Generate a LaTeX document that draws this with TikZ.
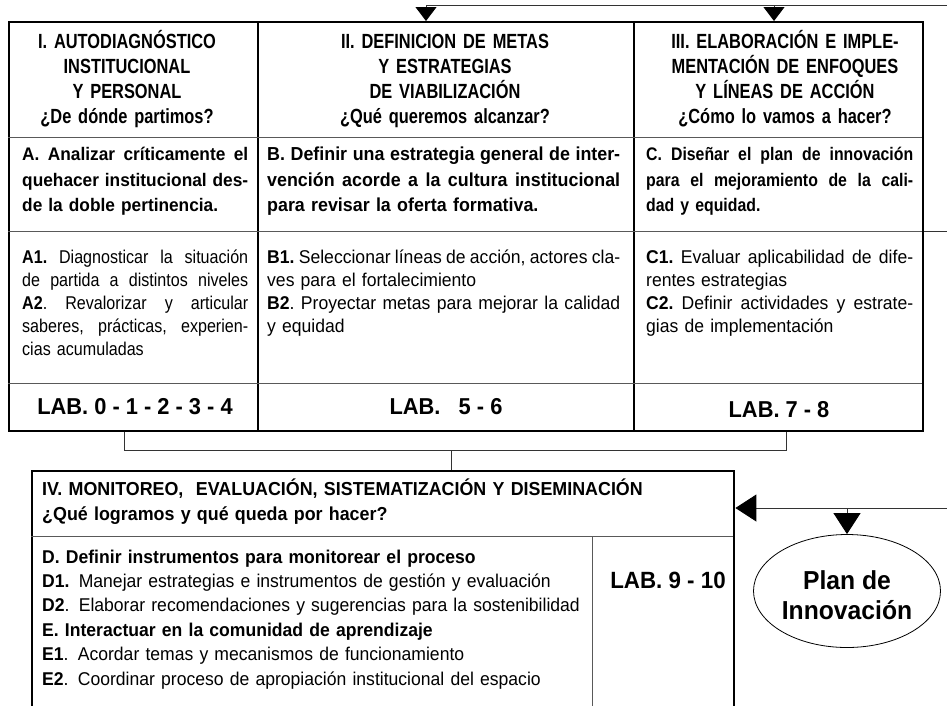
\documentclass[tikz,border=0pt]{standalone}
\usepackage{fontspec}
\setmainfont{Liberation Sans}[FakeStretch=0.95]
\newfontfamily\narrowfont{Liberation Sans}[FakeStretch=0.8]
\newfontfamily\midfont{Liberation Sans}[FakeStretch=0.87]
\usetikzlibrary{positioning,calc,shapes.geometric,arrows.meta}
\newlength{\jw}
\newcommand{\jline}[1]{\makebox[\jw][s]{\frenchspacing\spaceskip=.28em plus 1fil minus .08em\relax#1}}

\begin{document}
\begin{tikzpicture}[x=1pt,y=-1pt,
    frame/.style={draw, line width=2.4pt, inner sep=0pt, anchor=north west},
    rule/.style={draw=black!65, line width=0.9pt},
    sep/.style={draw, line width=2pt},
    link/.style={draw=black!80, line width=0.9pt},
    tip/.style={link, -{Triangle[width=21pt,length=14pt,color=black]}},
    bigtip/.style={link, -{Triangle[width=27pt,length=21pt,color=black]}},
    head/.style={text width=#1, align=center, inner sep=0pt, anchor=base,
      font=\narrowfont\fontsize{20.5}{25.3}\selectfont\bfseries},
    goal/.style={text width=#1, align=left, inner sep=0pt, anchor=base west,
      execute at begin node={\setlength{\jw}{#1}},
      font=\fontsize{18.2}{25.3}\selectfont\bfseries},
    task/.style={text width=#1, align=left, inner sep=0pt, anchor=base west,
      execute at begin node={\setlength{\jw}{#1}},
      font=\fontsize{18.5}{23}\selectfont},
    lab/.style={inner sep=0pt, font=\fontsize{23}{28}\selectfont\bfseries}]
  \useasboundingbox (0,0) rectangle (947,705);

  % table of the three stages
  \node[frame, minimum width=914pt, minimum height=409pt] (tabla) at (8,21) {};
  \draw[sep] (258,21) -- (258,430) (634,21) -- (634,430);
  \draw[rule] (8,137) -- (922,137) (8,231) -- (922,231) (8,383) -- (922,383);

  \node[head=240pt] (h1) at (127,48)
    {I. AUTODIAGNÓSTICO\\INSTITUCIONAL\\Y PERSONAL\\¿De dónde partimos?};
  \node[head=360pt] (h2) at (445,48)
    {II. DEFINICION DE METAS\\Y ESTRATEGIAS\\DE VIABILIZACIÓN\\¿Qué queremos alcanzar?};
  \node[head=280pt] (h3) at (785,48)
    {III. ELABORACIÓN E IMPLE-\\MENTACIÓN DE ENFOQUES\\Y LÍNEAS DE ACCIÓN\\¿Cómo lo vamos a hacer?};

  \node[goal=226pt] (ga) at (22,160.7)
    {\jline{A. Analizar críticamente el}\\\jline{quehacer institucional des-}\\de la doble pertinencia.};
  \node[goal=353pt, font=\fontsize{18.8}{25.3}\selectfont\bfseries] (gb) at (267,160.7)
    {\jline{B. Definir una estrategia general de inter-}\\\jline{vención acorde a la cultura institucional}\\para revisar la oferta formativa.};
  \node[goal=267pt, font=\midfont\fontsize{18.2}{25.3}\selectfont\bfseries] (gc) at (646,160.7)
    {\jline{C. Diseñar el plan de innovación}\\\jline{para el mejoramiento de la cali-}\\dad y equidad.};

  \node[task=226pt, font=\midfont\fontsize{18.5}{23}\selectfont] (ta) at (22,263.3)
    {\jline{\textbf{A1.} Diagnosticar la situación}\\\jline{de partida a distintos niveles}\\
     \jline{\textbf{A2}. Revalorizar y articular}\\\jline{saberes, prácticas, experien-}\\cias acumuladas};
  \node[task=353pt] (tb) at (267,263.3)
    {\jline{\textbf{B1.} Seleccionar líneas de acción, actores cla-}\\ves para el fortalecimiento\\
     \jline{\textbf{B2}. Proyectar metas para mejorar la calidad}\\y equidad};
  \node[task=267pt] (tc) at (646,263.3)
    {\jline{\textbf{C1.} Evaluar aplicabilidad de dife-}\\rentes estrategias\\
     \jline{\textbf{C2.} Definir actividades y estrate-}\\gias de implementación};

  \node[lab] (la) at (135,407) {LAB. 0 - 1 - 2 - 3 - 4};
  \node[lab] (lb) at (446,407) {LAB. \ \ 5 - 6};
  \node[lab] (lc) at (779,410) {LAB. 7 - 8};

  % monitoring box
  \node[frame, minimum width=702pt, minimum height=260pt] (mon) at (31,470) {};
  \draw[rule] (31,536) -- (733,536);
  \draw[rule] (592,536) -- (592,720);
  \node[goal=670pt, font=\fontsize{18.8}{25}\selectfont\bfseries] (mh) at (42,495)
    {IV. MONITOREO, \ EVALUACIÓN, SISTEMATIZACIÓN Y DISEMINACIÓN\\¿Qué logramos y qué queda por hacer?};
  \node[task=545pt, font=\fontsize{18.5}{24.4}\selectfont] (mb) at (42,563)
    {\textbf{D. Definir instrumentos para monitorear el proceso}\\
     \textbf{D1.} Manejar estrategias e instrumentos de gestión y evaluación\\
     \textbf{D2}. Elaborar recomendaciones y sugerencias para la sostenibilidad\\
     \textbf{E. Interactuar en la comunidad de aprendizaje}\\
     \textbf{E1}. Acordar temas y mecanismos de funcionamiento\\
     \textbf{E2}. Coordinar proceso de apropiación institucional del espacio};
  \node[lab, font=\fontsize{23.5}{30}\selectfont\bfseries] (ld) at (668,580) {LAB. 9 - 10};

  \node[ellipse, draw, line width=0.8pt, minimum width=187pt, minimum height=113pt,
    inner sep=0pt, align=center, font=\fontsize{26}{30}\selectfont\bfseries]
    (plan) at (847,591) {\rule{0pt}{27pt}Plan de\\Innovación};

  % connectors
  \coordinate (backR) at (947,5);
  \coordinate (backL) at (426,5);
  \coordinate (back3) at (774,5);
  \coordinate (out) at (947,231);
  \coordinate (brL) at (124,450);
  \coordinate (brM) at (451,450);
  \coordinate (brR) at (786,450);
  \coordinate (feed) at (947,508);
  \draw[tip] (backR) -- (backL) -- (backL |- tabla.north);
  \draw[tip] (back3) -- (back3 |- tabla.north);
  \draw[link] (out -| tabla.east) -- (out);
  \draw[link] (brL |- tabla.south) -- (brL) -- (brR) -- (brR |- tabla.south);
  \draw[link] (brM) -- (brM |- mon.north);
  \draw[bigtip] (feed) -- (feed -| mon.east);
  \draw[bigtip] (plan.north |- feed) -- (plan.north);
\end{tikzpicture}
\end{document}
